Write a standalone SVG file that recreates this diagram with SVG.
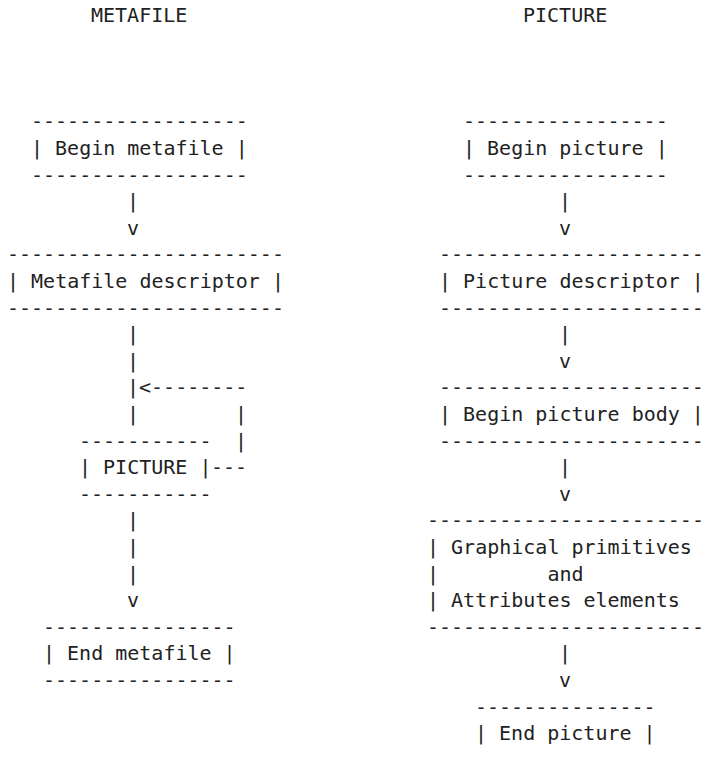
<svg xmlns="http://www.w3.org/2000/svg" width="706" height="761" viewBox="0 0 706 761" xml:space="preserve">
<style>
text { font-family: "DejaVu Sans Mono", "Liberation Mono", monospace; font-size: 20px; fill: #222222; white-space: pre; }
</style>
<rect width="706" height="761" fill="#ffffff"/>
<g id="title-metafile"><text x="91" y="22">METAFILE</text></g>
<g id="title-picture"><text x="523" y="22">PICTURE</text></g>

<g id="begin-metafile">
<text x="31" y="128.4">------------------</text>
<text x="31" y="155">| Begin metafile |</text>
<text x="31" y="181.6">------------------</text>
</g>
<g id="metafile-descriptor">
<text x="7" y="261.4">-----------------------</text>
<text x="7" y="288">| Metafile descriptor |</text>
<text x="7" y="314.6">-----------------------</text>
</g>
<g id="picture-ref">
<text x="79" y="447.6">-----------</text>
<text x="79" y="474.2">| PICTURE |</text>
<text x="79" y="500.8">-----------</text>
</g>
<g id="end-metafile">
<text x="43" y="633.8">----------------</text>
<text x="43" y="660.4">| End metafile |</text>
<text x="43" y="687">----------------</text>
</g>

<g id="begin-picture">
<text x="463" y="128.4">-----------------</text>
<text x="463" y="155">| Begin picture |</text>
<text x="463" y="181.6">-----------------</text>
</g>
<g id="picture-descriptor">
<text x="439" y="261.4">----------------------</text>
<text x="439" y="288">| Picture descriptor |</text>
<text x="439" y="314.6">----------------------</text>
</g>
<g id="begin-picture-body">
<text x="439" y="394.4">----------------------</text>
<text x="439" y="421">| Begin picture body |</text>
<text x="439" y="447.6">----------------------</text>
</g>
<g id="graphical-primitives">
<text x="427" y="527.4">-----------------------</text>
<text x="427" y="554">| Graphical primitives</text>
<text x="427" y="580.6">|         and</text>
<text x="427" y="607.2">| Attributes elements</text>
<text x="427" y="633.8">-----------------------</text>
</g>
<g id="end-picture">
<text x="475" y="713.6">---------------</text>
<text x="475" y="740.2">| End picture |</text>
</g>

<g id="connectors">
<text x="127" y="208.2">|</text>
<text x="127" y="234.8">v</text>
<text x="127" y="341.2">|</text>
<text x="127" y="367.8">|</text>
<text x="127" y="394.4">|&lt;--------</text>
<text x="127" y="421">|</text>
<text x="235" y="421">|</text>
<text x="235" y="447.6">|</text>
<text x="211" y="474.2">---</text>
<text x="127" y="527.4">|</text>
<text x="127" y="554">|</text>
<text x="127" y="580.6">|</text>
<text x="127" y="607.2">v</text>
<text x="559" y="208.2">|</text>
<text x="559" y="234.8">v</text>
<text x="559" y="341.2">|</text>
<text x="559" y="367.8">v</text>
<text x="559" y="474.2">|</text>
<text x="559" y="500.8">v</text>
<text x="559" y="660.4">|</text>
<text x="559" y="687">v</text>
</g>
</svg>
